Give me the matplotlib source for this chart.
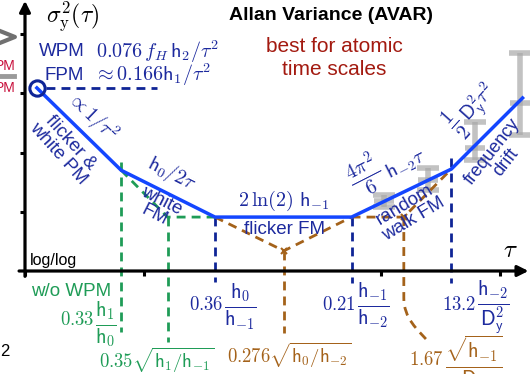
import matplotlib
matplotlib.use("Agg")
import matplotlib.pyplot as plt
import matplotlib.transforms as mtransforms
from matplotlib.path import Path
from matplotlib.patches import PathPatch

plt.rcParams['font.family'] = ['Liberation Sans', 'DejaVu Sans']
plt.rcParams['mathtext.fontset'] = 'cm'

# log10(tau) and log10(avar) in decades
tau_knee = [0.10, 0.81, 1.60, 2.75, 3.59, 4.19]
avar_knee = [3.09, 1.70, 0.91, 0.91, 1.72, 2.92]

# grey "measured" points with error bars
meas_tau = [3.02, 3.39, 3.79, 4.17]
meas_avar = [1.18, 1.54, 2.08, 2.84]
meas_lo = [1.08, 1.37, 1.87, 2.30]
meas_hi = [1.28, 1.74, 2.51, 3.68]

xticks = [0, 1, 3, 4]
yticks = [1, 2, 3, 4]

navy = '#1d2a9e'
ndash = '#0f2596'
blue = '#1446ff'
green = '#1f9c57'
brown = '#a4621a'
darkred = '#a31a10'

W, H = 530, 374
fig = plt.figure(figsize=(W / 100, H / 100), dpi=100)
ax = fig.add_axes([0, 0, 1, 1])
ax.set_xlim(-25 / 118.75, 505 / 118.75)
ax.set_ylim(-103 / 59.25, 271 / 59.25)
ax.axis('off')
pix = mtransforms.Affine2D().scale(1, -1).translate(0, H)  # text placed in pixels


def txt(x, y, s, **kw):
    kw.setdefault('ha', 'center')
    kw.setdefault('va', 'center')
    return ax.text(x, y, s, transform=pix, **kw)


def numfrac(xr, y, num, frac, color, dy=2):
    # number in normal size, fraction bigger so the h's are readable
    txt(xr, y, '$' + num + '$', fontsize=13.5, color=color, ha='right')
    txt(xr + 1, y + dy, r'$\frac{' + frac[0] + '}{' + frac[1] + '}$', fontsize=21, color=color, ha='left')


# axes with arrows
ax.annotate('', xy=(4.24, 0), xytext=(-0.05, 0),
            arrowprops=dict(arrowstyle='-|>', lw=2.3, color='k', mutation_scale=16, shrinkA=0, shrinkB=0))
ax.annotate('', xy=(0, 4.56), xytext=(0, -0.09),
            arrowprops=dict(arrowstyle='-|>', lw=2.3, color='k', mutation_scale=16, shrinkA=0, shrinkB=0))
for t in xticks:
    ax.plot([t, t], [0, -0.09], color='k', lw=2.2, solid_capstyle='butt')
for t in yticks:
    ax.plot([0, -0.045], [t, t], color='k', lw=2.2, solid_capstyle='butt')

# grey error bars
ax.errorbar(meas_tau, meas_avar,
            yerr=[[a - l for a, l in zip(meas_avar, meas_lo)], [h - a for a, h in zip(meas_avar, meas_hi)]],
            fmt='_', color='#a8a8a8', alpha=0.7, ms=15, mew=4, elinewidth=4, capsize=8, capthick=4, zorder=1)

dash = (0, (3.2, 2.2))
# navy guides
ax.plot([0.18, 1.11], [avar_knee[0], avar_knee[0]], color=ndash, lw=2, ls=dash)
ax.plot([tau_knee[2], tau_knee[2]], [avar_knee[2], -0.19], color=ndash, lw=2, ls=dash)
ax.plot([tau_knee[3], tau_knee[3]], [avar_knee[3], -0.20], color=ndash, lw=2, ls=dash)
ax.plot([tau_knee[4], tau_knee[4]], [1.91, -0.20], color=ndash, lw=2, ls=dash)

# green guides (w/o WPM)
ax.plot([tau_knee[1], tau_knee[1]], [1.84, -1.03], color=green, lw=2, ls=dash)
ax.plot([tau_knee[1], 1.20, tau_knee[2]], [avar_knee[1], 0.91, 0.91], color=green, lw=2, ls=dash)
ax.plot([1.20, 1.20], [0.91, -1.20], color=green, lw=2, ls=dash)

# brown guides
ax.plot([tau_knee[2], 2.18, tau_knee[3]], [avar_knee[2], 0.34, avar_knee[3]], color=brown, lw=2, ls=dash)
ax.plot([2.18, 2.18], [0.34, -1.05], color=brown, lw=2, ls=dash)
ax.plot([tau_knee[3], 3.19, tau_knee[4]], [avar_knee[3], 0.91, avar_knee[4]], color=brown, lw=2, ls=dash)
ax.plot([2.18, 3.19], [0.34, 0.91], 'x', color=brown, ms=5, mew=1.5)
curve = Path([(3.19, 0.91), (3.19, -0.45), (3.19, -0.80), (3.30, -0.98), (3.41, -1.22)],
             [Path.MOVETO, Path.LINETO, Path.CURVE4, Path.CURVE4, Path.CURVE4])
ax.add_patch(PathPatch(curve, fill=False, edgecolor=brown, lw=2, ls=dash))

# main curve
ax.plot(tau_knee, avar_knee, color=blue, lw=2.5, solid_joinstyle='miter', zorder=5)
ax.plot(tau_knee[0], avar_knee[0], 'o', mfc='none', mec=ndash, ms=11, mew=2.2, zorder=6)

# leftovers of the neighbouring panel
ax.plot([-0.21, -0.085, -0.21], [4.05, 3.95, 3.85], color='#707070', lw=3, zorder=1)
ax.plot([-0.21, -0.09], [3.29, 3.29], color='#9a9a9a', lw=3.5)
txt(16, 66, 'PM', color='#c8103c', fontsize=10, ha='right')
txt(16, 88, 'PM', color='#c8103c', fontsize=10, ha='right')
txt(0, 352, '2', color='k', fontsize=12, ha='left')

sans = 13.5
mth = 14.5
# labels
txt(73, 16, r'$\sigma_{\mathrm{y}}^2(\tau)$', fontsize=17)
txt(331, 16, 'Allan Variance (AVAR)', fontsize=14, weight='bold')
txt(334, 58, 'best for atomic\ntime scales', fontsize=15, color=darkred, linespacing=1.25)
txt(39, 52, 'WPM', fontsize=sans, color=navy, ha='left')
txt(44, 75, 'FPM', fontsize=sans, color=navy, ha='left')
txt(157, 52, r'$0.076\,f_H\,\mathsf{h}_2/\tau^2$', fontsize=mth, color=navy)
txt(152, 75, r'$\approx 0.166\mathsf{h}_1/\tau^2$', fontsize=mth, color=navy)
txt(92, 117, r'$\propto 1/\tau^2$', fontsize=mth, color=navy, rotation=-44)
txt(64, 148, 'flicker &\nwhite PM', fontsize=sans, color=navy, rotation=-48, linespacing=1.0)
txt(172, 174, r'$\mathsf{h}_0/2\tau$', fontsize=mth, color=navy, rotation=-27)
txt(158, 208, 'white\nFM', fontsize=sans, color=navy, rotation=-27, linespacing=1.0)
txt(284, 201, r'$2\,\ln(2)\ \mathsf{h}_{-1}$', fontsize=mth, color=navy)
txt(284, 229, 'flicker FM', fontsize=sans, color=navy)
txt(365, 176, r'$\frac{4\pi^2}{6}$', fontsize=21, color=navy, rotation=27)
txt(406, 165, r'$\mathsf{h}_{-2}\tau$', fontsize=mth, color=navy, rotation=27)
txt(409, 212, 'random\nwalk FM', fontsize=sans, color=navy, rotation=31, linespacing=1.0)
txt(456, 125, r'$\frac{1}{2}$', fontsize=21, color=navy, rotation=48)
txt(479, 103, r'$\mathsf{D}_{\mathsf{y}}^2\tau^2$', fontsize=mth, color=navy, rotation=48)
txt(499, 157, 'frequency\ndrift', fontsize=13, color=navy, rotation=52, linespacing=1.0)
txt(510, 250, r'$\tau$', fontsize=18)
txt(30, 261, 'log/log', fontsize=11.5, ha='left')
txt(71, 291, 'w/o WPM', fontsize=sans, color=green)
numfrac(94, 320, '0.33', (r'\mathsf{h}_1', r'\mathsf{h}_0'), green, dy=4)
txt(157, 360, r'$0.35\sqrt{\mathsf{h}_1/\mathsf{h}_{-1}}$', fontsize=13.5, color=green)
numfrac(223, 305, '0.36', (r'\mathsf{h}_0', r'\mathsf{h}_{-1}'), navy)
txt(289, 355, r'$0.276\sqrt{\mathsf{h}_0/\mathsf{h}_{-2}}$', fontsize=13.5, color=brown)
numfrac(356, 305, '0.21', (r'\mathsf{h}_{-1}', r'\mathsf{h}_{-2}'), navy, dy=1)
numfrac(476, 305, '13.2', (r'\mathsf{h}_{-2}', r'\mathsf{D}_{\mathsf{y}}^2'), navy)
numfrac(444, 360, '1.67', (r'\sqrt{\mathsf{h}_{-1}}', r'\mathsf{D}_{\mathsf{y}}'), brown, dy=4)

fig.savefig('out.png', dpi=100)
